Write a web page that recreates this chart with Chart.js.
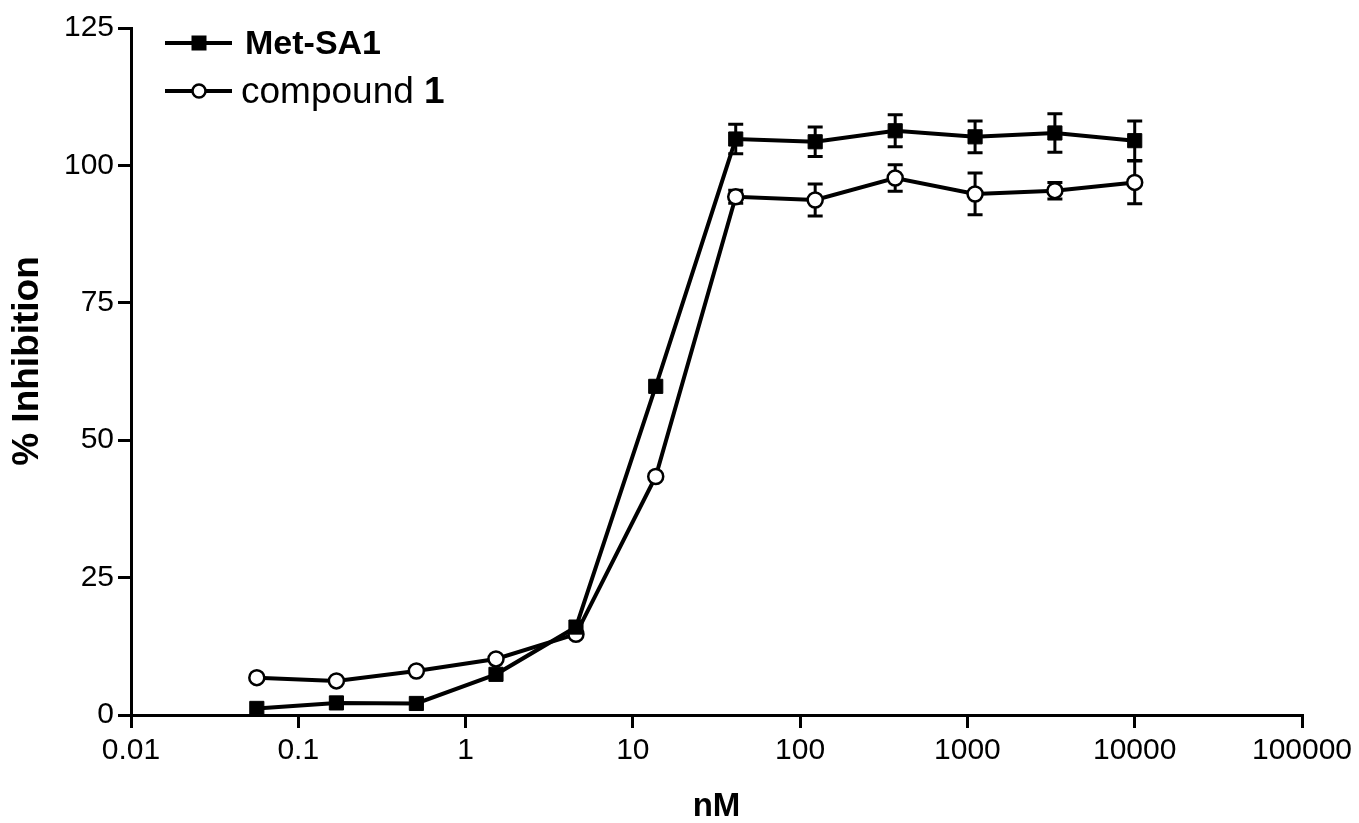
<!DOCTYPE html>
<html><head><meta charset="utf-8">
<script src="https://cdn.jsdelivr.net/npm/chart.js@4.4.0/dist/chart.umd.min.js"></script>
<style>html,body{margin:0;padding:0;background:#fff;}#wrap{width:1359px;height:823px;}</style>
</head><body><div id="wrap"><canvas id="c" width="1359" height="823"></canvas></div>
<script>
const concentrations = [0.0565, 0.169, 0.508, 1.52, 4.57, 13.7, 41.2, 123, 370, 1111, 3333, 10000];
const metSA1 = [1.2, 2.2, 2.1, 7.4, 16.0, 59.8, 104.8, 104.3, 106.3, 105.2, 105.9, 104.5];
const metSA1Err = [0, 0, 0, 0, 0, 0, 2.7, 2.7, 2.9, 2.9, 3.5, 3.6];
const compound1 = [6.8, 6.2, 8.0, 10.2, 14.7, 43.4, 94.3, 93.7, 97.7, 94.8, 95.4, 96.9];
const compound1Err = [0, 0, 0, 0, 0, 0, 1.2, 2.9, 2.4, 3.8, 1.5, 3.9];
const xTickValues = [0.01, 0.1, 1, 10, 100, 1000, 10000, 100000];
const xTickLabels = ['0.01', '0.1', '1', '10', '100', '1000', '10000', '100000'];
const yTickValues = [0, 25, 50, 75, 100, 125];
const xTitle = 'nM';
const yTitle = '% Inhibition';

const FONT = '"Liberation Sans", Arial, sans-serif';
const errors = [metSA1Err, compound1Err];

const errorBars = {
  id: 'errorBars',
  beforeDatasetsDraw(chart) {
    const ctx = chart.ctx, ys = chart.scales.y;
    ctx.save();
    ctx.strokeStyle = '#000';
    ctx.lineWidth = 3;
    chart.data.datasets.forEach((ds, di) => {
      const meta = chart.getDatasetMeta(di);
      meta.data.forEach((pt, i) => {
        const e = errors[di][i];
        if (!e) return;
        const v = ds.data[i].y;
        const y1 = ys.getPixelForValue(v + e), y2 = ys.getPixelForValue(v - e);
        const x = pt.x;
        ctx.beginPath();
        ctx.moveTo(x, y1); ctx.lineTo(x, y2);
        ctx.moveTo(x - 7.5, y1); ctx.lineTo(x + 7.5, y1);
        ctx.moveTo(x - 7.5, y2); ctx.lineTo(x + 7.5, y2);
        ctx.stroke();
      });
    });
    ctx.restore();
  }
};

const extras = {
  id: 'extras',
  afterDraw(chart) {
    const ctx = chart.ctx;
    ctx.save();
    ctx.fillStyle = '#000';
    ctx.translate(28, 361);
    ctx.rotate(-Math.PI / 2);
    ctx.font = 'bold 37px ' + FONT;
    ctx.textAlign = 'center';
    ctx.textBaseline = 'middle';
    ctx.fillText(yTitle, 0, 0);
    ctx.restore();

    // legend
    ctx.save();
    ctx.strokeStyle = '#000';
    ctx.fillStyle = '#000';
    ctx.lineWidth = 4;
    const rows = [
      {y: 43, square: true},
      {y: 91, square: false}
    ];
    rows.forEach(r => {
      ctx.beginPath(); ctx.moveTo(165, r.y); ctx.lineTo(232, r.y); ctx.stroke();
      if (r.square) {
        ctx.fillRect(199 - 7.5, r.y - 7.5, 15, 15);
      } else {
        ctx.beginPath(); ctx.arc(199, r.y, 6.5, 0, Math.PI * 2);
        ctx.fillStyle = '#fff'; ctx.fill();
        ctx.lineWidth = 2.5; ctx.stroke(); ctx.lineWidth = 4; ctx.fillStyle = '#000';
      }
    });
    ctx.textBaseline = 'middle';
    ctx.textAlign = 'left';
    ctx.font = 'bold 34px ' + FONT;
    ctx.fillText(chart.data.datasets[0].label, 245, 45);
    ctx.font = '37px ' + FONT;
    const t = 'compound ';
    ctx.fillText(t, 241, 93);
    const w = ctx.measureText(t).width;
    ctx.font = 'bold 37px ' + FONT;
    ctx.fillText('1', 241 + w, 93);
    ctx.restore();
  }
};

const toXY = (xs, ys) => xs.map((x, i) => ({x: x, y: ys[i]}));

new Chart(document.getElementById('c'), {
  type: 'line',
  data: {
    datasets: [
      {
        label: 'Met-SA1',
        data: toXY(concentrations, metSA1),
        borderColor: '#000', backgroundColor: '#000',
        borderWidth: 4, tension: 0,
        pointStyle: 'rect', pointRadius: 10, pointBorderWidth: 1,
        pointBackgroundColor: '#000', pointBorderColor: '#000'
      },
      {
        label: 'compound 1',
        data: toXY(concentrations, compound1),
        borderColor: '#000', backgroundColor: '#fff',
        borderWidth: 4, tension: 0,
        pointStyle: 'circle', pointRadius: 7.5, pointBorderWidth: 2.5,
        pointBackgroundColor: '#fff', pointBorderColor: '#000'
      }
    ]
  },
  options: {
    responsive: false,
    animation: false,
    devicePixelRatio: 1,
    layout: {padding: {left: 0, top: 28, right: 57, bottom: 0}},
    plugins: {legend: {display: false}, tooltip: {enabled: false}},
    scales: {
      x: {
        type: 'logarithmic',
        min: 0.01, max: 100000,
        afterBuildTicks(s) { s.ticks = xTickValues.map(v => ({value: v})); },
        afterFit(s) { s.height = 108; },
        grid: {drawOnChartArea: false, drawTicks: true, tickLength: 13, color: '#000', lineWidth: 3},
        border: {display: true, color: '#000', width: 3},
        ticks: {
          autoSkip: false, maxRotation: 0, padding: 5, color: '#000',
          font: {family: FONT, size: 30},
          callback: (v, i) => xTickLabels[i]
        },
        title: {display: true, text: xTitle, color: '#000', font: {family: FONT, size: 33, weight: 'bold', lineHeight: 1.0}, padding: {top: 0, bottom: 0}}
      },
      y: {
        min: 0, max: 125,
        afterBuildTicks(s) { s.ticks = yTickValues.map(v => ({value: v})); },
        afterFit(s) { s.width = 131; },
        grid: {drawOnChartArea: false, drawTicks: true, tickLength: 13, color: '#000', lineWidth: 3},
        border: {display: true, color: '#000', width: 3},
        ticks: {padding: 4, color: '#000', font: {family: FONT, size: 30}, callback: v => String(v)}
      }
    }
  },
  plugins: [errorBars, extras]
});
</script>
</body></html>
